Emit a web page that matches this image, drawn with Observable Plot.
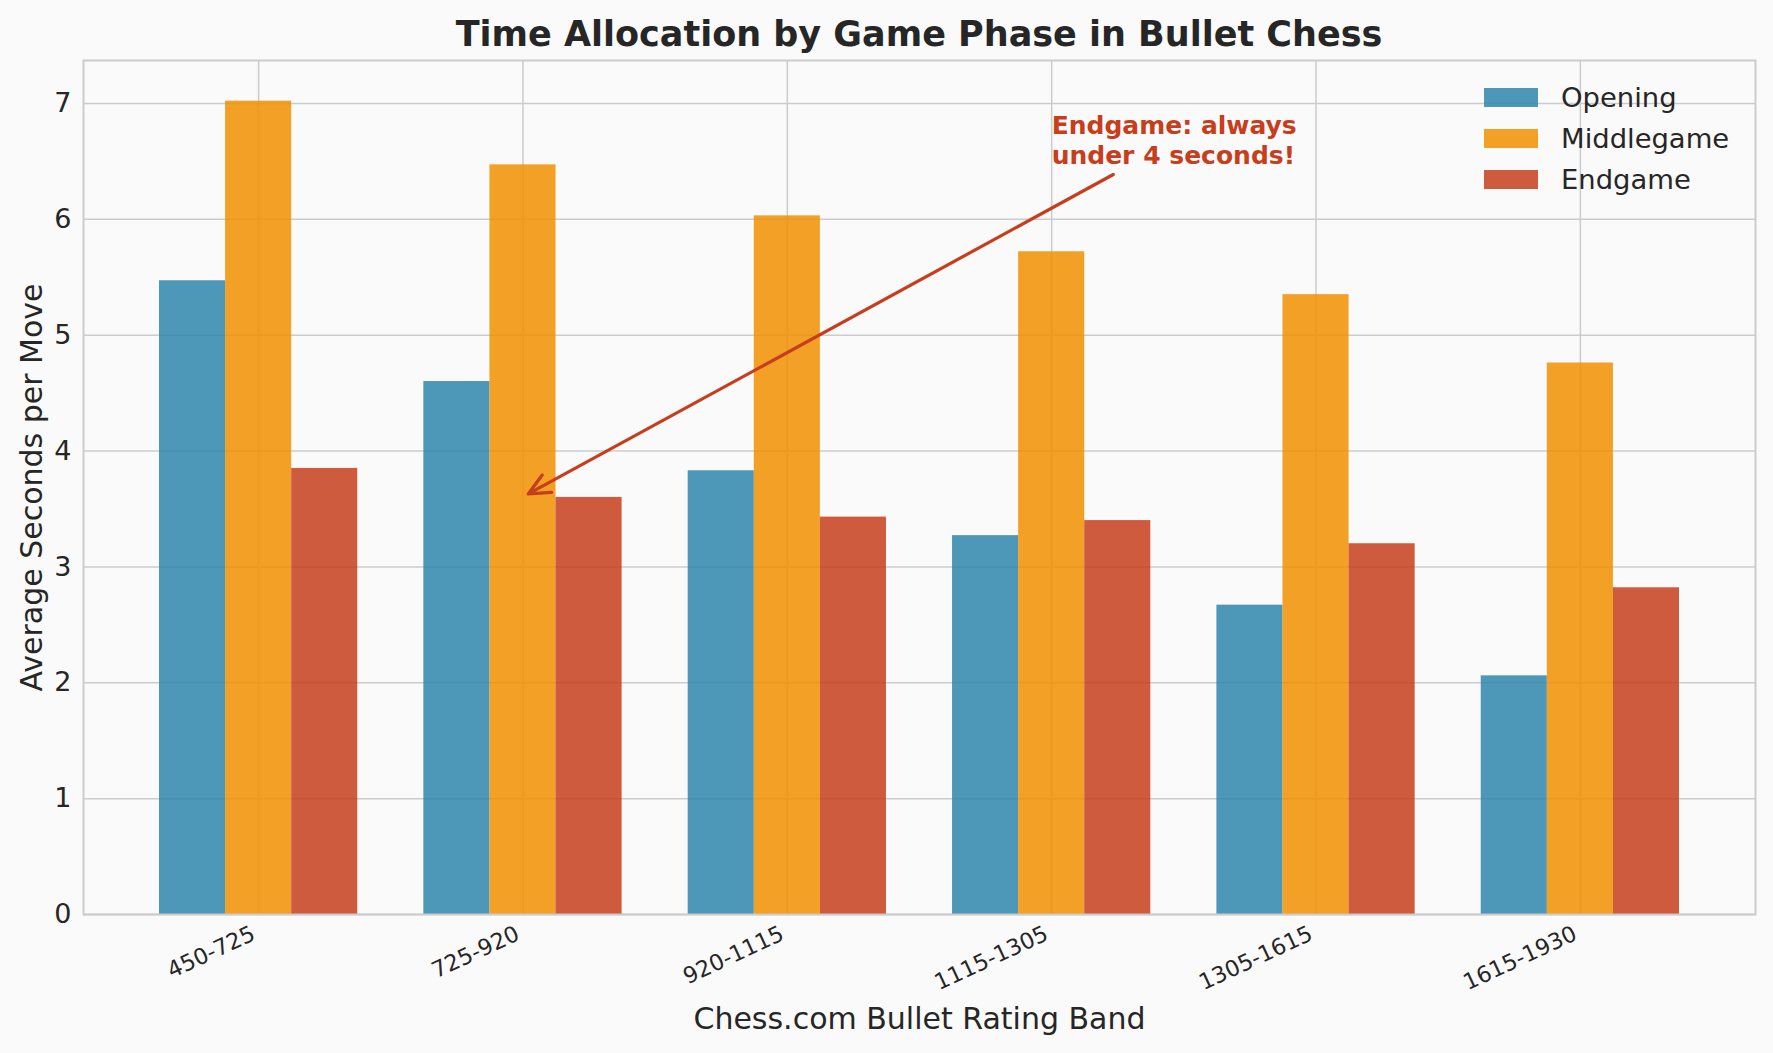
<!DOCTYPE html>
<html>
<head>
<meta charset="utf-8">
<script src="https://cdn.jsdelivr.net/npm/d3@7"></script>
<script src="https://cdn.jsdelivr.net/npm/@observablehq/plot@0.6"></script>
<style>
  html, body { margin: 0; padding: 0; background: #fafafa; }
  #wrap { position: relative; width: 1773px; height: 1053px; font-family: "DejaVu Sans", sans-serif; color: #262626; }
  #title { height: 48px; padding-top: 10px; padding-left: 65px; line-height: 48px; text-align: center; font-weight: bold; font-size: 35px; }
  #legend { position: absolute; left: 1484px; top: 77px; font-size: 27.4px; }
  .row { display: flex; align-items: center; height: 41px; }
  .sw { width: 54px; height: 19px; margin-right: 23px; opacity: 0.85; }
</style>
</head>
<body>
<div id="wrap">
  <div id="title">Time Allocation by Game Phase in Bullet Chess</div>
  <div id="chart"></div>
  <div id="legend"></div>
</div>
<script>
const groups = ["450-725", "725-920", "920-1115", "1115-1305", "1305-1615", "1615-1930"];
const phases = ["Opening", "Middlegame", "Endgame"];
const opening = [5.47, 4.60, 3.83, 3.27, 2.67, 2.06];
const middlegame = [7.02, 6.47, 6.03, 5.72, 5.35, 4.76];
const endgame = [3.85, 3.60, 3.43, 3.40, 3.20, 2.82];
const colors = ["#2E86AB", "#F18F01", "#C73E1D"];
const yTicks = [0, 1, 2, 3, 4, 5, 6, 7];
const annotationText = "Endgame: always\nunder 4 seconds!";
const annotationAt = [3, 6.48];
const arrowFrom = [3.233, 6.387];
const arrowTo = [1.02, 3.63];

const series = [opening, middlegame, endgame];
const barWidth = 0.25;
const rows = [];
series.forEach((vals, p) => vals.forEach((v, i) => rows.push({i, p, phase: phases[p], value: v})));

const chart = Plot.plot({
  width: 1773,
  height: 995,
  marginTop: 2,
  marginBottom: 139,
  marginLeft: 83,
  marginRight: 18,
  style: {background: "transparent", fontFamily: "DejaVu Sans, sans-serif", color: "#262626"},
  x: {type: "linear", domain: [-0.6625, groups.length - 1 + 0.6625]},
  y: {domain: [0, 7.371]},
  color: {domain: phases, range: colors},
  marks: [
    Plot.gridY({ticks: yTicks, stroke: "#cccccc", strokeOpacity: 1, strokeWidth: 1.5}),
    Plot.gridX({ticks: d3.range(groups.length), stroke: "#cccccc", strokeOpacity: 1, strokeWidth: 1.5}),
    Plot.rectY(rows, {
      x1: d => d.i + (d.p - 1.5) * barWidth,
      x2: d => d.i + (d.p - 0.5) * barWidth,
      y1: 0,
      y2: "value",
      fill: "phase",
      fillOpacity: 0.85
    }),
    Plot.frame({stroke: "#cccccc", strokeWidth: 2}),
    Plot.axisY({ticks: yTicks, tickSize: 0, tickPadding: 12, fontSize: 27, label: null}),
    Plot.axisX({ticks: d3.range(groups.length), tickFormat: i => groups[i], tickRotate: -25, tickSize: 0, tickPadding: 18, dx: -5, fontSize: 22.4, label: null}),
    Plot.text(["Average Seconds per Move"], {frameAnchor: "left", textAnchor: "middle", lineAnchor: "middle", rotate: -90, dx: -51, fontSize: 30, fill: "#262626"}),
    Plot.text(["Chess.com Bullet Rating Band"], {frameAnchor: "bottom", textAnchor: "middle", lineAnchor: "middle", dy: 105, fontSize: 30, fill: "#262626"}),
    Plot.arrow([0], {x1: arrowFrom[0], y1: arrowFrom[1], x2: arrowTo[0], y2: arrowTo[1], stroke: "#C73E1D", strokeWidth: 3.2, headLength: 11, headAngle: 50}),
    Plot.text([annotationText], {x: annotationAt[0], y: annotationAt[1], text: d => d, textAnchor: "start", lineAnchor: "bottom", lineHeight: 1.2, fontWeight: "bold", fontSize: 25, fill: "#C73E1D"})
  ]
});
document.getElementById("chart").appendChild(chart);

const legend = document.getElementById("legend");
phases.forEach((name, k) => {
  const row = document.createElement("div");
  row.className = "row";
  const sw = document.createElement("div");
  sw.className = "sw";
  sw.style.background = colors[k];
  const label = document.createElement("span");
  label.textContent = name;
  row.appendChild(sw);
  row.appendChild(label);
  legend.appendChild(row);
});
</script>
</body>
</html>
